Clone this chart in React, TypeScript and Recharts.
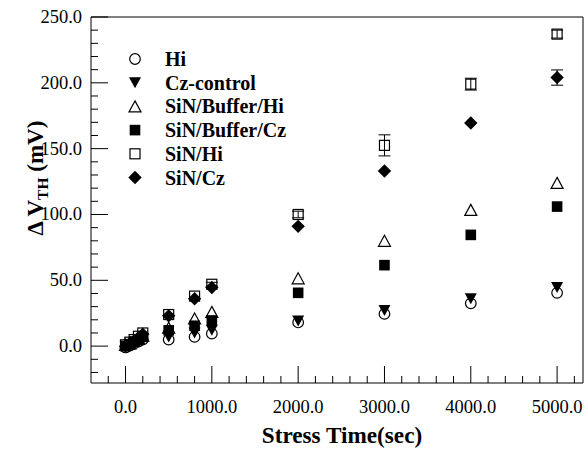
import React from 'react';
import { ScatterChart, Scatter, XAxis, YAxis, ErrorBar, Legend } from 'recharts';

const W = 585;
const H = 450;
// plot edges in px (layout only)
const PLOT = { left: 91, right: 583, top: 17, bottom: 383 };
const FONT = "Liberation Serif, 'Times New Roman', 'DejaVu Serif', serif";

// stress time (sec)
const times = [0, 50, 100, 150, 200, 500, 800, 1000, 2000, 3000, 4000, 5000];

// delta Vth (mV)
const hiValues = [-1, 0.5, 2, 3.5, 5, 5, 7, 9.5, 18, 24.5, 32.5, 40.5];
const czValues = [0, 1, 2.5, 4, 5.5, 7, 10, 12, 19, 27, 36, 44.5];
const bufHiValues = [1, 2, 4, 6, 8, 14, 21, 26, 51.5, 80, 103.5, 124];
const bufCzValues = [0, 1.5, 3.5, 5, 7, 12, 15.5, 19.5, 40.5, 61.5, 84.5, 106];
const sinHiValues = [1, 3, 5, 7.5, 10, 24, 38, 47, 100, 152.5, 199, 237];
const sinCzValues = [0, 2, 4, 6.5, 9, 23, 36, 44.5, 91, 133, 169.5, 204];

// error bars (mV)
const sinHiErr = [0, 0, 0, 0, 0, 0, 0, 1.5, 2.5, 8, 4.5, 3];
const sinCzErr = [0, 0, 0, 0, 0, 0, 0, 0, 0, 0, 0, 5.8];

const xMajorTicks = [0, 1000, 2000, 3000, 4000, 5000];
const xMinorTicks = [
  -200, 200, 400, 600, 800, 1200, 1400, 1600, 1800, 2200, 2400, 2600, 2800,
  3200, 3400, 3600, 3800, 4200, 4400, 4600, 4800, 5200,
];
const yMajorTicks = [0, 50, 100, 150, 200, 250];
const yMinorTicks = [
  -20, -10, 10, 20, 30, 40, 60, 70, 80, 90, 110, 120, 130, 140, 160, 170, 180,
  190, 210, 220, 230, 240,
];

const xTicks = [...xMinorTicks, ...xMajorTicks].sort((a, b) => a - b);
const yTicks = [...yMinorTicks, ...yMajorTicks].sort((a, b) => a - b);

const toPoints = (values: number[], errs?: number[]) =>
  times.map((t, i) => ({ x: t, y: values[i], err: errs ? errs[i] : 0 }));

const series = [
  { name: 'Hi', kind: 'circle', data: toPoints(hiValues) },
  { name: 'Cz-control', kind: 'downTri', data: toPoints(czValues) },
  { name: 'SiN/Buffer/Hi', kind: 'upTri', data: toPoints(bufHiValues) },
  { name: 'SiN/Buffer/Cz', kind: 'square', data: toPoints(bufCzValues) },
  { name: 'SiN/Hi', kind: 'openSquare', data: toPoints(sinHiValues, sinHiErr) },
  { name: 'SiN/Cz', kind: 'diamond', data: toPoints(sinCzValues, sinCzErr) },
];

const textStyle = { fontFamily: FONT };

const Marker = ({ kind, cx, cy }: any) => {
  const sw = 1.2;
  switch (kind) {
    case 'circle':
      return <circle cx={cx} cy={cy} r={5.3} fill="none" stroke="#000" strokeWidth={sw} />;
    case 'downTri':
      return <path d={`M${cx - 6},${cy - 5.5} L${cx + 6},${cy - 5.5} L${cx},${cy + 5.5} Z`} fill="#000" />;
    case 'upTri':
      return (
        <path
          d={`M${cx},${cy - 5.5} L${cx + 6},${cy + 5.5} L${cx - 6},${cy + 5.5} Z`}
          fill="none"
          stroke="#000"
          strokeWidth={sw}
        />
      );
    case 'square':
      return <rect x={cx - 5.3} y={cy - 5.3} width={10.6} height={10.6} fill="#000" />;
    case 'openSquare':
      return (
        <rect x={cx - 5} y={cy - 5} width={10} height={10} fill="none" stroke="#000" strokeWidth={sw} />
      );
    default:
      return <path d={`M${cx},${cy - 6.7} L${cx + 6.7},${cy} L${cx},${cy + 6.7} L${cx - 6.7},${cy} Z`} fill="#000" />;
  }
};

const BottomTick = ({ x, payload }: any) => {
  const major = xMajorTicks.includes(payload.value);
  return (
    <g>
      <line x1={x} x2={x} y1={PLOT.bottom} y2={PLOT.bottom - (major ? 17 : 7)} stroke="#000" />
      {major && (
        <text x={x} y={413} textAnchor="middle" style={textStyle} fontSize={18.5} fill="#000">
          {payload.value.toFixed(1)}
        </text>
      )}
    </g>
  );
};

const TopTick = ({ x, payload }: any) => {
  const major = xMajorTicks.includes(payload.value);
  return <line x1={x} x2={x} y1={PLOT.top} y2={PLOT.top + (major ? 17 : 7)} stroke="#000" />;
};

const LeftTick = ({ y, payload }: any) => {
  const major = yMajorTicks.includes(payload.value);
  return (
    <g>
      <line x1={PLOT.left} x2={PLOT.left + (major ? 17 : 7)} y1={y} y2={y} stroke="#000" />
      {major && (
        <text x={82} y={y + 6} textAnchor="end" style={textStyle} fontSize={18.5} fill="#000">
          {payload.value.toFixed(1)}
        </text>
      )}
    </g>
  );
};

const RightTick = ({ y, payload }: any) => {
  const major = yMajorTicks.includes(payload.value);
  return <line x1={PLOT.right} x2={PLOT.right - (major ? 17 : 7)} y1={y} y2={y} stroke="#000" />;
};

const LegendBox = () => (
  <svg width={220} height={160} style={{ overflow: 'visible' }}>
    {series.map((s, i) => {
      const cy = 19 + i * 23.7;
      return (
        <g key={s.name}>
          <Marker kind={s.kind} cx={35} cy={cy} />
          <text x={65} y={cy} dy="0.35em" style={textStyle} fontSize={20} fontWeight="bold" fill="#000">
            {s.name}
          </text>
        </g>
      );
    })}
  </svg>
);

export default function App() {
  return (
    <div style={{ position: 'absolute', left: 0, top: 0, background: '#fff', fontFamily: FONT }}>
      <ScatterChart width={W} height={H} margin={{ top: 16, right: 1, bottom: 27, left: 31 }}>
        <XAxis
          type="number"
          dataKey="x"
          domain={[-400, 5300]}
          ticks={xTicks}
          interval={0}
          height={40}
          tickLine={false}
          tick={<BottomTick />}
          axisLine={{ stroke: '#000' }}
          label={() => (
            <text x={342} y={443} textAnchor="middle" style={textStyle} fontSize={23.2} fontWeight="bold" fill="#000">
              Stress Time(sec)
            </text>
          )}
        />
        <XAxis
          xAxisId="top"
          orientation="top"
          type="number"
          dataKey="x"
          domain={[-400, 5300]}
          ticks={xTicks}
          interval={0}
          height={1}
          tickLine={false}
          tick={<TopTick />}
          axisLine={{ stroke: '#000' }}
        />
        <YAxis
          type="number"
          dataKey="y"
          domain={[-28, 250]}
          ticks={yTicks}
          interval={0}
          width={60}
          tickLine={false}
          tick={<LeftTick />}
          axisLine={{ stroke: '#000' }}
          label={() => (
            <text
              x={43}
              y={178}
              transform="rotate(-90, 43, 178)"
              textAnchor="middle"
              style={textStyle}
              fontSize={23}
              fontWeight="bold"
              fill="#000"
            >
              Δ V
              <tspan fontSize={15.5} dy={5}>TH</tspan>
              <tspan dy={-5}> (mV)</tspan>
            </text>
          )}
        />
        <YAxis
          yAxisId="right"
          orientation="right"
          type="number"
          dataKey="y"
          domain={[-28, 250]}
          ticks={yTicks}
          interval={0}
          width={1}
          tickLine={false}
          tick={<RightTick />}
          axisLine={{ stroke: '#000' }}
        />
        <Legend
          layout="vertical"
          align="center"
          verticalAlign="middle"
          wrapperStyle={{ left: 100, top: 40, width: 220, height: 160 }}
          content={() => <LegendBox />}
        />
        {series.map((s) => (
          <Scatter
            key={s.name}
            name={s.name}
            data={s.data}
            isAnimationActive={false}
            shape={(p: any) => <Marker kind={s.kind} cx={p.cx} cy={p.cy} />}
          >
            <ErrorBar dataKey="err" direction="y" width={6} stroke="#000" strokeWidth={1} />
          </Scatter>
        ))}
      </ScatterChart>
    </div>
  );
}
